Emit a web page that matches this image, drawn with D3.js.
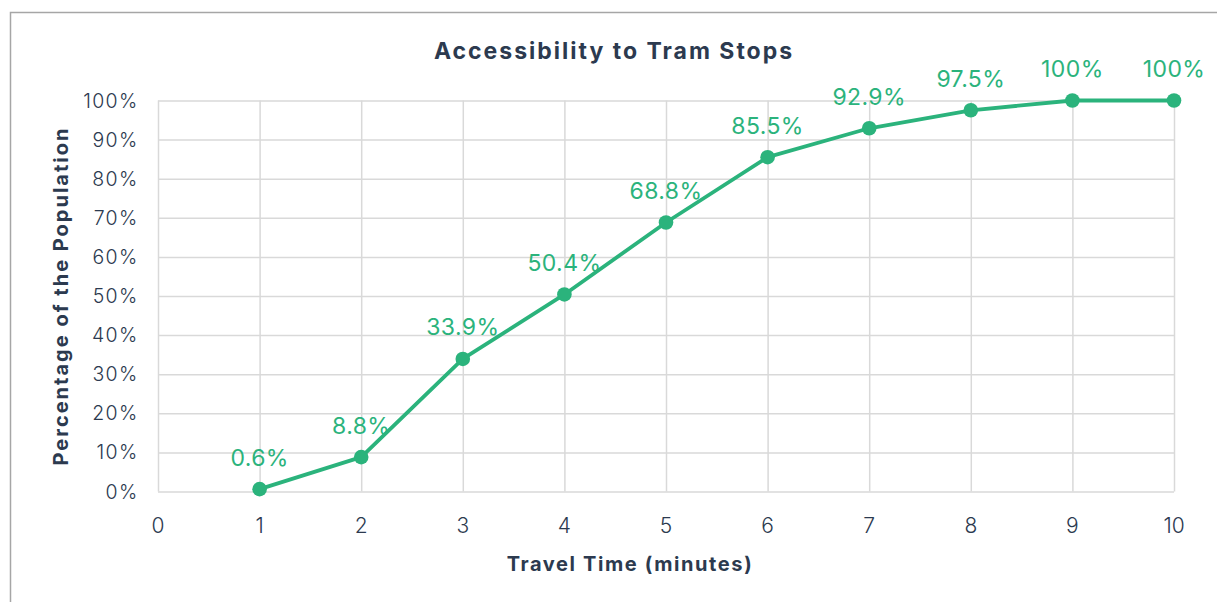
<!DOCTYPE html>
<html>
<head>
<meta charset="utf-8">
<script src="https://cdn.jsdelivr.net/npm/d3@7"></script>
<style>
  html, body { margin: 0; padding: 0; background: #fff; }
  svg { display: block; font-family: Inter, "Open Sans", sans-serif; }
</style>
</head>
<body>
<svg id="chart" width="1217" height="602"></svg>
<script>
// Share of the population reaching a tram stop within each travel time
const minutes = [1, 2, 3, 4, 5, 6, 7, 8, 9, 10];
const share = [0.6, 8.8, 33.9, 50.4, 68.8, 85.5, 92.9, 97.5, 100, 100];
const shareLabels = ["0.6%", "8.8%", "33.9%", "50.4%", "68.8%", "85.5%", "92.9%", "97.5%", "100%", "100%"];
const xTicks = [0, 1, 2, 3, 4, 5, 6, 7, 8, 9, 10];
const yTicks = [0, 10, 20, 30, 40, 50, 60, 70, 80, 90, 100];

const green = "#2bb37c";
const ink = "#2c3a4f";
const grid = "#d9d9d9";

const svg = d3.select("#chart");

// outer frame
svg.append("rect")
  .attr("x", 10.5).attr("y", 12.5)
  .attr("width", 1230).attr("height", 620)
  .attr("fill", "none").attr("stroke", "#a6a6a6").attr("stroke-width", 1.5);

const x = d3.scaleLinear().domain([0, 10]).range([158, 1174]);
const y = d3.scaleLinear().domain([0, 100]).range([491.5, 100.5]);

// gridlines
const gy = svg.append("g")
  .attr("transform", `translate(${x(0)},0)`)
  .call(d3.axisLeft(y).tickValues(yTicks).tickSize(-(x(10) - x(0))).tickFormat(""));
gy.select(".domain").remove();
gy.selectAll(".tick line").attr("stroke", grid).attr("stroke-width", 1.5);

const gx = svg.append("g")
  .attr("transform", `translate(0,${y(0)})`)
  .call(d3.axisBottom(x).tickValues(xTicks).tickSize(-(y(0) - y(100))).tickFormat(""));
gx.select(".domain").remove();
gx.selectAll(".tick line").attr("stroke", grid).attr("stroke-width", 1.5);

// tick labels
svg.append("g").selectAll("text").data(yTicks).join("text")
  .attr("x", 138.5).attr("y", d => y(d)).attr("dy", "0.36em")
  .attr("text-anchor", "end")
  .attr("font-size", 19.5).attr("letter-spacing", 1.3)
  .attr("fill", ink).attr("font-weight", 300)
  .text(d => d + "%");

svg.append("g").selectAll("text").data(xTicks).join("text")
  .attr("x", d => x(d)).attr("y", 533)
  .attr("text-anchor", "middle")
  .attr("font-size", 21).attr("fill", ink).attr("font-weight", 300)
  .text(d => d);

// titles
svg.append("text")
  .attr("x", 614).attr("y", 59)
  .attr("text-anchor", "middle")
  .attr("font-size", 23).attr("letter-spacing", 2)
  .attr("font-weight", 700).attr("fill", ink)
  .text("Accessibility to Tram Stops");

svg.append("text")
  .attr("x", 630).attr("y", 571)
  .attr("text-anchor", "middle")
  .attr("font-size", 20).attr("letter-spacing", 1.6)
  .attr("font-weight", 700).attr("fill", ink)
  .text("Travel Time (minutes)");

svg.append("text")
  .attr("transform", "translate(68,296) rotate(-90)")
  .attr("text-anchor", "middle")
  .attr("font-size", 20).attr("letter-spacing", 2)
  .attr("font-weight", 700).attr("fill", ink)
  .text("Percentage of the Population");

// series line and markers
const pts = minutes.map((m, i) => ({ m, v: share[i], label: shareLabels[i] }));

svg.append("path")
  .datum(pts)
  .attr("fill", "none").attr("stroke", green).attr("stroke-width", 3.8)
  .attr("stroke-linejoin", "round")
  .attr("d", d3.line().x(d => x(d.m)).y(d => y(d.v)));

svg.append("g").selectAll("circle").data(pts).join("circle")
  .attr("cx", d => x(d.m)).attr("cy", d => y(d.v)).attr("r", 7.3)
  .attr("fill", green);

svg.append("g").selectAll("text").data(pts).join("text")
  .attr("x", d => x(d.m)).attr("y", d => y(d.v) - 23.5)
  .attr("text-anchor", "middle")
  .attr("font-size", 23).attr("letter-spacing", 0.4)
  .attr("fill", green).attr("font-weight", 400)
  .text(d => d.label);
</script>
</body>
</html>
